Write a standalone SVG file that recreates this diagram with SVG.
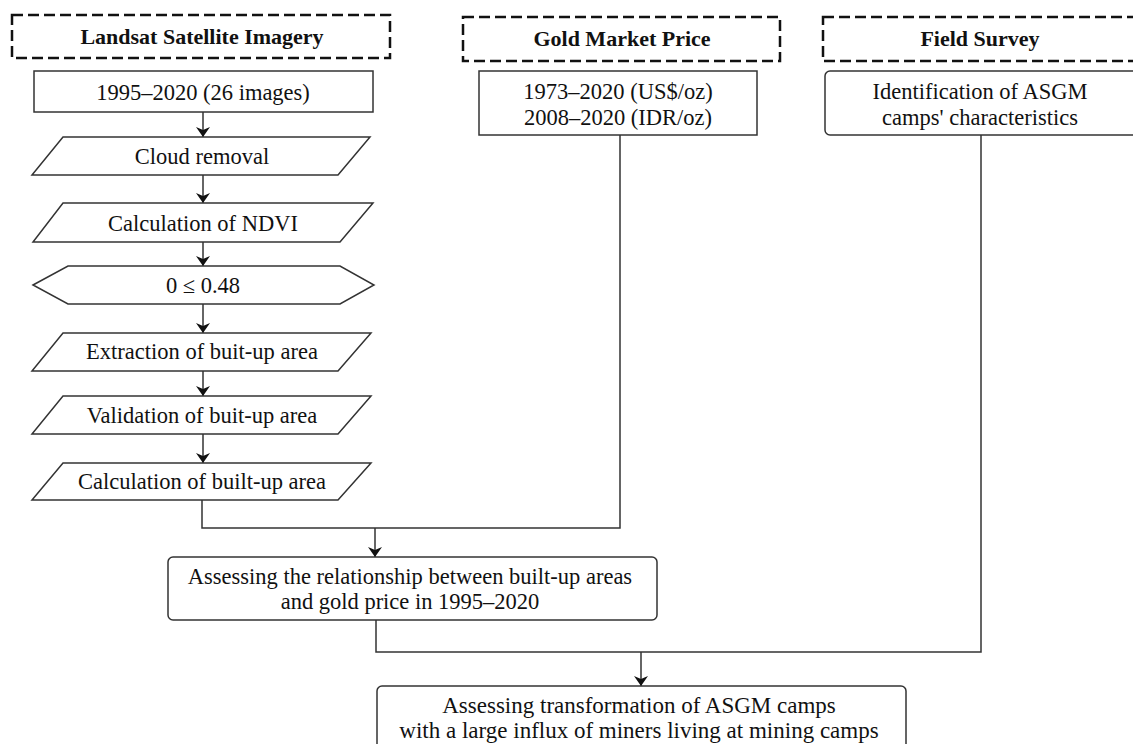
<svg xmlns="http://www.w3.org/2000/svg" width="1133" height="744" viewBox="0 0 1133 744">
<style>
.hdr{fill:none;stroke:#111;stroke-width:2.5;stroke-dasharray:11,5}
.box{fill:#fff;stroke:#333;stroke-width:1.5}
.ln{fill:none;stroke:#333;stroke-width:1.5}
.arr{fill:none;stroke:#333;stroke-width:1.5;marker-end:url(#ah)}
text{font-family:"Liberation Serif","Times New Roman",serif;font-size:22.5px;fill:#111;text-anchor:middle}
.b{font-weight:bold;font-size:22px}
.l{font-size:23px}
</style>
<defs>
<marker id="ah" viewBox="0 0 10 14" refX="10" refY="7" markerWidth="11" markerHeight="14" markerUnits="userSpaceOnUse" orient="auto">
<path d="M0,0 L10,7 L0,14 L3,7 Z" fill="#111"/>
</marker>
</defs>
<g id="connectors">
<line class="arr" x1="203" y1="112" x2="203" y2="137"/>
<line class="arr" x1="203" y1="175" x2="203" y2="203"/>
<line class="arr" x1="203" y1="242" x2="203" y2="266"/>
<line class="arr" x1="203" y1="304" x2="203" y2="333"/>
<line class="arr" x1="203" y1="371" x2="203" y2="396"/>
<line class="arr" x1="203" y1="434" x2="203" y2="463"/>
<polyline class="ln" points="202,500 202,528 620,528 620,135"/>
<line class="arr" x1="375" y1="528" x2="375" y2="557"/>
<polyline class="ln" points="376,620 376,652 981,652 981,135"/>
<line class="arr" x1="641" y1="652" x2="641" y2="686"/>
</g>
<g id="hdr-landsat">
<rect class="hdr" x="12" y="15" width="378" height="43"/>
<text class="b" x="202" y="44">Landsat Satellite Imagery</text>
</g>
<g id="hdr-gold">
<rect class="hdr" x="463" y="17" width="317" height="44"/>
<text class="b" x="622" y="46">Gold Market Price</text>
</g>
<g id="hdr-field">
<rect class="hdr" x="823" y="17" width="320" height="44"/>
<text class="b" x="980" y="46">Field Survey</text>
</g>
<g id="n-images">
<rect class="box" x="34" y="71" width="339" height="41"/>
<text x="203" y="100">1995–2020 (26 images)</text>
</g>
<g id="n-cloud">
<polygon class="box" points="63,137 370,137 338,175 32,175"/>
<text x="202" y="164">Cloud removal</text>
</g>
<g id="n-ndvi">
<polygon class="box" points="63,203 373,203 340,242 33,242"/>
<text x="203" y="231">Calculation of NDVI</text>
</g>
<g id="n-threshold">
<polygon class="box" points="33,285 68,266 340,266 374,285 340,304 68,304"/>
<text x="203" y="293">0 ≤ 0.48</text>
</g>
<g id="n-extract">
<polygon class="box" points="63,333 371,333 338,371 32,371"/>
<text x="202" y="359">Extraction of buit-up area</text>
</g>
<g id="n-validate">
<polygon class="box" points="63,396 371,396 338,434 32,434"/>
<text x="202" y="423">Validation of buit-up area</text>
</g>
<g id="n-calc">
<polygon class="box" points="63,463 371,463 338,500 32,500"/>
<text x="202" y="489">Calculation of built-up area</text>
</g>
<g id="n-gold">
<rect class="box" x="479" y="71" width="278" height="64"/>
<text x="618" y="99">1973–2020 (US$/oz)</text>
<text x="618" y="125">2008–2020 (IDR/oz)</text>
</g>
<g id="n-field">
<rect class="box" x="825" y="71" width="320" height="64" rx="5"/>
<text x="980" y="99">Identification of ASGM</text>
<text x="980" y="125">camps' characteristics</text>
</g>
<g id="n-relation">
<rect class="box" x="168" y="557" width="489" height="63" rx="5"/>
<text x="410" y="584">Assessing the relationship between built-up areas</text>
<text x="410" y="609">and gold price in 1995–2020</text>
</g>
<g id="n-transform">
<rect class="box" x="377" y="686" width="529" height="70" rx="5"/>
<text class="l" x="639" y="713">Assessing transformation of ASGM camps</text>
<text class="l" x="639" y="738">with a large influx of miners living at mining camps</text>
</g>
</svg>
